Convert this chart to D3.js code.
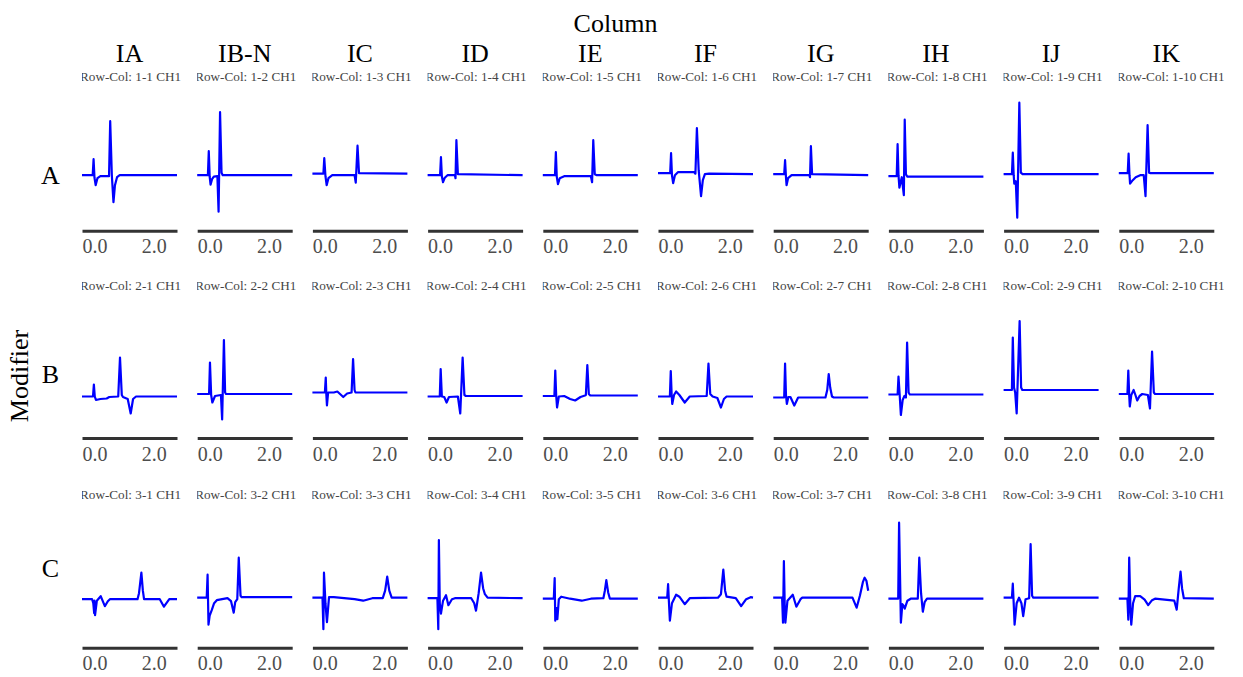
<!DOCTYPE html>
<html>
<head>
<meta charset="utf-8">
<script src="https://cdn.jsdelivr.net/npm/d3@7"></script>
<style>
  html, body { margin: 0; padding: 0; background: #ffffff; }
  svg { display: block; }
</style>
</head>
<body>
<script>
// ---------------- data ----------------
const columns = ["IA", "IB-N", "IC", "ID", "IE", "IF", "IG", "IH", "IJ", "IK"];
const rows = ["A", "B", "C"];
const xTicks = [0, 2];
const xDomain = [-0.42, 2.78];
const rowYMin = [-1.11, -0.86, -0.99];
const yMax = 1.6;

// waveform vertices [time, amplitude], one list per panel
const waveRowA = [
  [[-0.42,0],[-0.06,0],[-0.03,0.32],[0.0,-0.05],[0.04,-0.2],[0.1,-0.06],[0.2,-0.02],[0.49,-0.02],[0.53,1.08],[0.585,0],[0.64,-0.54],[0.69,-0.2],[0.76,-0.04],[0.85,0],[2.78,0]],
  [[-0.42,0],[-0.06,0],[-0.03,0.48],[0.0,-0.03],[0.03,-0.19],[0.08,-0.08],[0.14,-0.03],[0.26,-0.02],[0.3,-0.73],[0.35,1.26],[0.4,0.05],[0.44,0],[2.78,0]],
  [[-0.42,0.03],[-0.05,0.03],[-0.02,0.34],[0.02,-0.02],[0.06,-0.2],[0.12,-0.06],[0.25,0.0],[1.0,0.0],[1.04,-0.15],[1.1,0.59],[1.15,0.04],[2.78,0.03]],
  [[-0.42,0],[0.0,0],[0.03,0.36],[0.06,-0.02],[0.1,-0.14],[0.16,-0.05],[0.25,0],[0.5,0],[0.52,-0.06],[0.55,0.7],[0.6,0.02],[2.78,0]],
  [[-0.42,0],[-0.01,0],[0.02,0.46],[0.05,-0.03],[0.09,-0.18],[0.15,-0.06],[0.3,-0.02],[1.2,-0.02],[1.24,-0.14],[1.28,0.7],[1.33,0.02],[1.4,0],[2.78,0]],
  [[-0.42,0.04],[-0.01,0.04],[0.02,0.44],[0.05,0.0],[0.09,-0.16],[0.15,0.0],[0.25,0.06],[0.8,0.06],[0.84,0.03],[0.89,0.94],[0.95,0.1],[1.03,-0.42],[1.09,-0.1],[1.16,0.02],[1.3,0.03],[2.78,0.02]],
  [[-0.42,0.02],[-0.05,0.02],[-0.02,0.3],[0.01,-0.04],[0.03,-0.2],[0.08,-0.06],[0.2,0.0],[0.8,0.0],[0.82,-0.04],[0.85,0.58],[0.89,0.02],[2.78,0.0]],
  [[-0.42,-0.02],[-0.14,-0.02],[-0.11,0.62],[-0.08,0.0],[-0.05,-0.25],[0.03,-0.04],[0.1,-0.4],[0.13,1.11],[0.17,0.02],[0.22,-0.03],[2.78,-0.03]],
  [[-0.42,0.02],[-0.14,0.02],[-0.11,0.45],[-0.08,0.0],[-0.06,-0.17],[-0.01,-0.12],[0.04,-0.85],[0.11,1.45],[0.16,0.05],[0.22,0.02],[2.78,0.02]],
  [[-0.42,0.04],[-0.12,0.04],[-0.09,0.43],[-0.06,0.0],[-0.04,-0.17],[0.05,-0.1],[0.15,-0.04],[0.3,0.0],[0.42,0.0],[0.48,-0.42],[0.55,1.0],[0.6,0.05],[0.65,0.04],[2.78,0.04]]
];
const waveRowB = [
  [[-0.42,-0.03],[-0.05,-0.03],[-0.02,0.21],[0.01,-0.03],[0.05,-0.1],[0.2,-0.08],[0.41,-0.07],[0.5,-0.04],[0.8,-0.03],[0.86,0.75],[0.92,0.0],[0.96,-0.04],[1.12,-0.08],[1.22,-0.37],[1.3,-0.08],[1.4,-0.03],[2.78,-0.03]],
  [[-0.42,0.02],[-0.02,0.02],[0.01,0.65],[0.05,0.0],[0.09,-0.15],[0.18,-0.02],[0.38,0.0],[0.42,-0.49],[0.48,1.1],[0.52,0.05],[0.55,0.02],[2.78,0.02]],
  [[-0.42,0.05],[0.0,0.05],[0.03,0.35],[0.05,0.0],[0.07,-0.21],[0.11,0.05],[0.3,0.05],[0.42,0.07],[0.62,-0.04],[0.75,0.03],[0.9,0.05],[0.95,0.72],[1.0,0.1],[1.03,0.05],[2.78,0.05]],
  [[-0.42,-0.03],[-0.01,-0.03],[0.02,0.52],[0.06,-0.03],[0.14,-0.04],[0.22,-0.15],[0.3,-0.04],[0.6,-0.03],[0.68,-0.37],[0.76,0.75],[0.82,0.0],[0.87,-0.02],[2.78,-0.02]],
  [[-0.42,-0.02],[-0.03,-0.02],[0.0,0.49],[0.03,0.0],[0.06,-0.25],[0.12,-0.03],[0.3,-0.02],[0.5,-0.08],[0.67,-0.11],[0.85,-0.04],[1.0,-0.01],[1.03,0.0],[1.08,0.6],[1.13,0.02],[1.18,-0.01],[2.78,-0.01]],
  [[-0.42,-0.03],[-0.02,-0.03],[0.01,0.48],[0.04,0.0],[0.06,-0.18],[0.12,0.0],[0.19,0.07],[0.3,0.0],[0.48,-0.15],[0.65,-0.03],[1.22,-0.02],[1.28,0.63],[1.34,0.02],[1.42,-0.03],[1.58,-0.06],[1.7,-0.25],[1.8,-0.08],[1.89,-0.03],[2.78,-0.03]],
  [[-0.42,-0.05],[-0.05,-0.05],[-0.02,0.63],[0.01,0.0],[0.04,-0.18],[0.09,-0.04],[0.16,-0.04],[0.29,-0.21],[0.42,-0.05],[1.34,-0.05],[1.4,0.1],[1.45,0.42],[1.5,0.15],[1.56,-0.03],[1.62,-0.05],[2.78,-0.05]],
  [[-0.42,0.01],[-0.11,0.01],[-0.08,0.37],[-0.04,0.0],[0.0,-0.4],[0.06,-0.1],[0.12,-0.02],[0.17,-0.05],[0.21,1.05],[0.26,0.05],[0.3,0.01],[2.78,0.01]],
  [[-0.42,0.1],[-0.14,0.1],[-0.11,1.15],[-0.07,0.15],[-0.03,0.05],[0.02,-0.37],[0.12,1.48],[0.17,0.15],[0.21,0.1],[2.78,0.1]],
  [[-0.42,0.02],[-0.13,0.02],[-0.1,0.49],[-0.07,0.0],[-0.05,-0.23],[0.0,0.0],[0.08,0.1],[0.14,0.0],[0.2,-0.11],[0.28,-0.02],[0.37,0.02],[0.56,0.0],[0.63,-0.27],[0.7,0.87],[0.76,0.05],[0.8,0.02],[2.78,0.02]]
];
const waveRowC = [
  [[-0.42,-0.02],[-0.08,-0.02],[-0.04,-0.1],[-0.01,-0.3],[0.0,-0.05],[0.02,-0.34],[0.08,-0.05],[0.21,0.04],[0.35,-0.16],[0.45,-0.06],[0.52,-0.02],[1.45,-0.02],[1.5,0.1],[1.58,0.51],[1.63,0.15],[1.67,-0.02],[2.2,-0.02],[2.34,-0.17],[2.52,-0.02],[2.78,-0.02]],
  [[-0.42,0.01],[-0.1,0.01],[-0.07,0.47],[-0.04,-0.53],[0.0,-0.35],[0.07,-0.24],[0.15,-0.1],[0.24,-0.04],[0.6,0.0],[0.72,-0.06],[0.81,-0.29],[0.86,-0.08],[0.93,-0.02],[0.98,0.81],[1.04,0.05],[1.08,0.02],[2.78,0.02]],
  [[-0.42,0.01],[-0.08,0.01],[-0.05,-0.62],[-0.03,0.51],[0.02,-0.1],[0.07,-0.48],[0.14,0.02],[0.3,0.02],[1.0,-0.02],[1.29,-0.05],[1.6,0.0],[1.95,0.0],[2.03,0.15],[2.1,0.43],[2.17,0.15],[2.25,0.01],[2.78,0.01]],
  [[-0.42,0],[-0.09,0],[-0.06,-0.62],[-0.04,1.16],[-0.01,-0.1],[0.03,-0.31],[0.1,-0.05],[0.2,0.06],[0.28,-0.14],[0.4,-0.02],[0.5,0.0],[1.05,0.0],[1.15,-0.1],[1.21,-0.25],[1.3,0.1],[1.38,0.51],[1.45,0.2],[1.51,0.08],[1.6,0.01],[2.78,0.0]],
  [[-0.42,-0.01],[-0.05,-0.01],[-0.02,0.4],[0.0,-0.45],[0.04,-0.2],[0.07,-0.42],[0.12,-0.02],[0.2,0.03],[0.5,-0.01],[0.89,-0.05],[1.2,-0.01],[1.62,0.0],[1.67,0.15],[1.72,0.36],[1.78,0.12],[1.84,-0.01],[2.78,-0.01]],
  [[-0.42,0.01],[-0.11,0.01],[-0.08,0.28],[-0.05,-0.1],[-0.02,-0.45],[0.05,-0.1],[0.19,0.07],[0.3,0.03],[0.48,-0.12],[0.65,0.0],[1.6,0.01],[1.7,0.08],[1.78,0.57],[1.84,0.15],[1.89,0.03],[2.2,0.0],[2.38,-0.16],[2.55,-0.02],[2.7,0.02],[2.78,0.01]],
  [[-0.42,0.01],[-0.12,0.01],[-0.09,-0.49],[-0.06,0.74],[-0.03,-0.2],[-0.01,-0.49],[0.06,-0.05],[0.24,0.07],[0.36,-0.17],[0.5,-0.02],[0.56,0.01],[2.25,0.01],[2.39,-0.19],[2.5,0.05],[2.6,0.32],[2.66,0.41],[2.72,0.35],[2.78,0.15]],
  [[-0.42,-0.01],[-0.09,-0.01],[-0.06,1.51],[0.0,-0.49],[0.05,-0.12],[0.09,-0.15],[0.13,-0.21],[0.22,-0.05],[0.33,-0.01],[0.57,-0.01],[0.62,0.81],[0.68,0.1],[0.74,-0.27],[0.8,-0.08],[0.88,-0.01],[2.78,-0.01]],
  [[-0.42,0.01],[-0.14,0.01],[-0.11,0.29],[-0.08,-0.1],[-0.05,-0.53],[0.02,-0.1],[0.1,0.01],[0.18,-0.1],[0.24,-0.36],[0.32,-0.02],[0.44,0.0],[0.49,1.08],[0.54,0.05],[0.58,0.01],[2.78,0.01]],
  [[-0.42,-0.01],[-0.13,-0.01],[-0.1,-0.43],[-0.07,0.81],[-0.03,-0.2],[0.0,-0.53],[0.06,-0.1],[0.13,0.04],[0.3,0.04],[0.45,-0.03],[0.57,-0.14],[0.7,-0.04],[0.8,-0.01],[1.45,-0.05],[1.53,-0.23],[1.6,0.2],[1.66,0.53],[1.71,0.2],[1.77,0.0],[2.78,-0.01]]
];
const waves = [waveRowA, waveRowB, waveRowC];

// ---------------- layout ----------------
const W = 1243, H = 677;
const FONT = "'Liberation Serif', 'Times New Roman', serif";
const panelX0 = 82, panelStep = 115.2, panelW = 95;
const axisY = [230.7, 438, 647.7];
const pxPerUnit = 50;
const titleBase = [81, 290, 499];
const rowLabelBase = [184, 383, 577];

const svg = d3.select("body").append("svg")
  .attr("width", W).attr("height", H)
  .style("font-family", FONT);

svg.append("text")
  .attr("x", 615.5).attr("y", 31.5)
  .attr("text-anchor", "middle")
  .attr("font-size", 26).attr("fill", "#000")
  .text("Column");

svg.append("text")
  .attr("transform", "translate(28,376) rotate(-90)")
  .attr("text-anchor", "middle")
  .attr("font-size", 26).attr("fill", "#000")
  .text("Modifier");

columns.forEach((col, c) => {
  svg.append("text")
    .attr("x", panelX0 + c * panelStep + panelW / 2).attr("y", 62.3)
    .attr("text-anchor", "middle")
    .attr("font-size", 26).attr("fill", "#000")
    .text(col);
});

rows.forEach((row, r) => {
  svg.append("text")
    .attr("x", 50.5).attr("y", rowLabelBase[r])
    .attr("text-anchor", "middle")
    .attr("font-size", 26).attr("fill", "#000")
    .text(row);
});

const defs = svg.append("defs");

rows.forEach((row, r) => {
  const yTop = axisY[r] - (yMax - rowYMin[r]) * pxPerUnit;
  const y = d3.scaleLinear().domain([rowYMin[r], yMax]).range([axisY[r], yTop]);
  columns.forEach((col, c) => {
    const left = panelX0 + c * panelStep;
    const x = d3.scaleLinear().domain(xDomain).range([left, left + panelW]);
    const g = svg.append("g");

    // panel title (clipped at panel's left edge)
    const clipId = `clip-${r}-${c}`;
    defs.append("clipPath").attr("id", clipId)
      .append("rect").attr("x", left).attr("y", titleBase[r] - 16)
      .attr("width", 160).attr("height", 22);
    g.append("text")
      .attr("clip-path", `url(#${clipId})`)
      .attr("x", left - 2).attr("y", titleBase[r])
      .attr("font-size", 13.2).attr("fill", "#444")
      .text(`Row-Col: ${r + 1}-${c + 1} CH1`);

    // waveform
    const line = d3.line().x(d => x(d[0])).y(d => y(d[1]));
    g.append("path")
      .datum(waves[r][c])
      .attr("d", line)
      .attr("fill", "none")
      .attr("stroke", "#0000ff")
      .attr("stroke-width", 2.2)
      .attr("stroke-linejoin", "round");

    // x axis
    const ax = g.append("g")
      .attr("transform", `translate(0,${axisY[r]})`)
      .call(d3.axisBottom(x).tickValues(xTicks).tickFormat(d3.format(".1f"))
        .tickSize(0).tickSizeOuter(0).tickPadding(8.3));
    ax.attr("font-family", FONT);
    ax.select(".domain").attr("stroke", "#333").attr("stroke-width", 3);
    ax.selectAll("text").attr("font-size", 20).attr("fill", "#4d4d4d");
  });
});
</script>
</body>
</html>
